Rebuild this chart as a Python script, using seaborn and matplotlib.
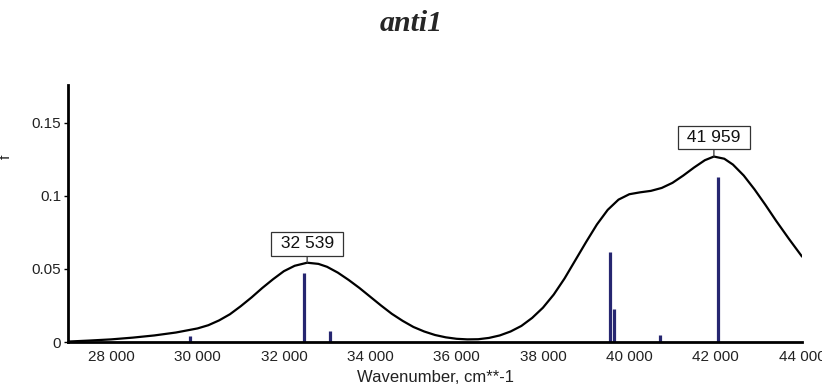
import matplotlib
matplotlib.use("Agg")
import matplotlib.pyplot as plt
import seaborn as sns
import pandas as pd

# Broadened spectrum
wavenumber = [27000, 27500, 28000, 28500, 29000, 29500, 30000, 30250, 30500, 30750,
              31000, 31250, 31500, 31750, 32000, 32250, 32539, 32800, 33000, 33250,
              33500, 33750, 34000, 34250, 34500, 34750, 35000, 35250, 35500, 35750,
              36000, 36250, 36500, 36750, 37000, 37250, 37500, 37750, 38000, 38250,
              38500, 38750, 39000, 39250, 39500, 39750, 40000, 40250, 40500, 40750,
              41000, 41250, 41500, 41750, 41959, 42200, 42400, 42650, 42900, 43150,
              43400, 43700, 44000]
f_curve = [0.0003, 0.0010, 0.0018, 0.0030, 0.0045, 0.0065, 0.0093, 0.0115, 0.0148, 0.0190,
           0.0245, 0.0305, 0.0370, 0.0430, 0.0485, 0.0522, 0.0543, 0.0535, 0.0515, 0.0475,
           0.0425, 0.0370, 0.0310, 0.0250, 0.0193, 0.0145, 0.0103, 0.0072, 0.0048, 0.0032,
           0.0022, 0.0018, 0.0019, 0.0028, 0.0045, 0.0072, 0.0110, 0.0165, 0.0235, 0.0325,
           0.0435, 0.0560, 0.0685, 0.0805, 0.0905, 0.0975, 0.1012, 0.1025, 0.1035, 0.1055,
           0.1090, 0.1140, 0.1195, 0.1245, 0.1270, 0.1255, 0.1215, 0.1140, 0.1045, 0.0940,
           0.0830, 0.0705, 0.0585]

# Stick transitions
stick_x = [29830, 32470, 33060, 39560, 39640, 40720, 42050]
stick_f = [0.004, 0.047, 0.0078, 0.0618, 0.0226, 0.005, 0.113]

# Peak labels
peak_x = [32539, 41959]
peak_f = [0.0543, 0.1270]
peak_labels = ["32 539", "41 959"]

xticks = [28000, 30000, 32000, 34000, 36000, 38000, 40000, 42000, 44000]
xticklabels = ["28 000", "30 000", "32 000", "34 000", "36 000", "38 000", "40 000", "42 000", "44 000"]
yticks = [0, 0.05, 0.1, 0.15]
yticklabels = ["0", "0.05", "0.1", "0.15"]

sns.set_theme(style="white")
plt.rcParams['font.family'] = ['Liberation Sans', 'DejaVu Sans']

fig = plt.figure(figsize=(8.22, 3.89), dpi=100)
ax = fig.add_axes([0.0827, 0.1208, 0.8930, 0.6607])

df = pd.DataFrame({"x": wavenumber, "f": f_curve})
ax.vlines(stick_x, 0, stick_f, colors="#262670", linewidth=2.3, zorder=2)
sns.lineplot(data=df, x="x", y="f", color="black", linewidth=1.6, ax=ax, zorder=3)

for px, pf, lab in zip(peak_x, peak_f, peak_labels):
    ax.annotate(" " + lab + " ", xy=(px, pf), xytext=(0, 19), textcoords="offset pixels",
                ha="center", va="center", fontsize=12.5, color="#111111",
                bbox=dict(boxstyle="square,pad=0.25", fc="white", ec="#333333", lw=0.9),
                arrowprops=dict(arrowstyle="-", color="#333333", lw=0.9,
                                shrinkA=0, shrinkB=0), zorder=5)

ax.set_xlim(27000, 44000)
ax.set_ylim(0, 0.176)
ax.set_xticks(xticks)
ax.set_xticklabels(xticklabels, fontsize=11, color="#222222")
ax.set_yticks(yticks)
ax.set_yticklabels(yticklabels, fontsize=11, color="#222222")
ax.tick_params(axis="x", length=0, pad=6)
ax.tick_params(axis="y", length=3, width=1, color="black", pad=2, direction="out", left=True)

for s in ["top", "right"]:
    ax.spines[s].set_visible(False)
for s in ["left", "bottom"]:
    ax.spines[s].set_color("black")
    ax.spines[s].set_linewidth(2)

ax.set_xlabel("Wavenumber, cm**-1", fontsize=12, color="#222222", labelpad=4)
ax.set_ylabel("f", fontsize=11, color="#222222")
ax.yaxis.set_label_coords(-0.075, 0.72)
ax.grid(False)

fig.text(0.5006, 0.94, "anti1", ha="center", va="center", fontsize=21.5,
         fontweight="bold", fontstyle="italic", family=["Liberation Serif", "DejaVu Serif"])

fig.savefig("out.png", dpi=100, facecolor="white")
